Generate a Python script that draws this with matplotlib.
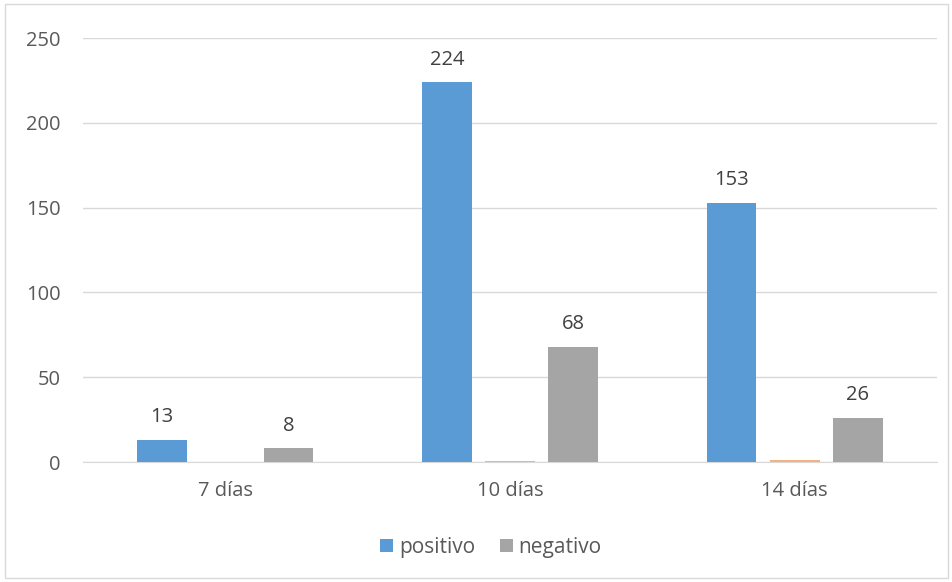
import matplotlib.pyplot as plt
import matplotlib.patches as mpatches
import numpy as np

categories = ["7 días", "10 días", "14 días"]
positivo = [13, 224, 153]
indeterminado = [0, 0.5, 1]
negativo = [8, 68, 26]

plt.rcParams["font.family"] = ["Open Sans", "DejaVu Sans"]
text_color = "#595959"
fs = 14.5

fig = plt.figure(figsize=(9.53, 5.82), dpi=100)
ax = fig.add_axes([83 / 953, 1 - 462 / 582, (937 - 83) / 953, (462 - 38) / 582])

x = np.arange(len(categories))
w = 0.175
off = 0.222
b1 = ax.bar(x - off, positivo, w, color="#5B9BD5", label="positivo", zorder=3)
ax.bar(x, indeterminado, w, color="#F4B183", zorder=3)
b3 = ax.bar(x + off, negativo, w, color="#A5A5A5", label="negativo", zorder=3)

for bars, vals in ((b1, positivo), (b3, negativo)):
    for rect, v in zip(bars, vals):
        ax.annotate(str(v), (rect.get_x() + rect.get_width() / 2, v),
                    xytext=(0, 9), textcoords="offset points",
                    ha="center", va="bottom", fontsize=fs, color="#404040")

ax.set_xlim(-0.5, 2.5)
ax.set_ylim(0, 250)
ax.set_yticks([0, 50, 100, 150, 200, 250])
ax.set_xticks(x)
ax.set_xticklabels(categories)
ax.yaxis.grid(True, color="#D9D9D9", linewidth=1, zorder=0)
ax.set_axisbelow(True)
for s in ("top", "right", "left"):
    ax.spines[s].set_visible(False)
ax.spines["bottom"].set_color("#D9D9D9")
ax.tick_params(axis="both", length=0, labelsize=fs, labelcolor=text_color)
ax.tick_params(axis="y", pad=16)
ax.tick_params(axis="x", pad=14)

ax.legend(handles=[b1, b3], loc="center", bbox_to_anchor=(491 / 953, 1 - 547 / 582),
          bbox_transform=fig.transFigure, ncol=2, frameon=False, fontsize=15,
          handlelength=0.6, handleheight=0.6, handletextpad=0.3, columnspacing=1.2,
          labelcolor=text_color)

fig.patches.append(mpatches.Rectangle((5 / 953, 4 / 582), 943 / 953, 574 / 582,
                                      transform=fig.transFigure, fill=False,
                                      edgecolor="#D9D9D9", linewidth=1))

fig.savefig("out.png", dpi=100)
